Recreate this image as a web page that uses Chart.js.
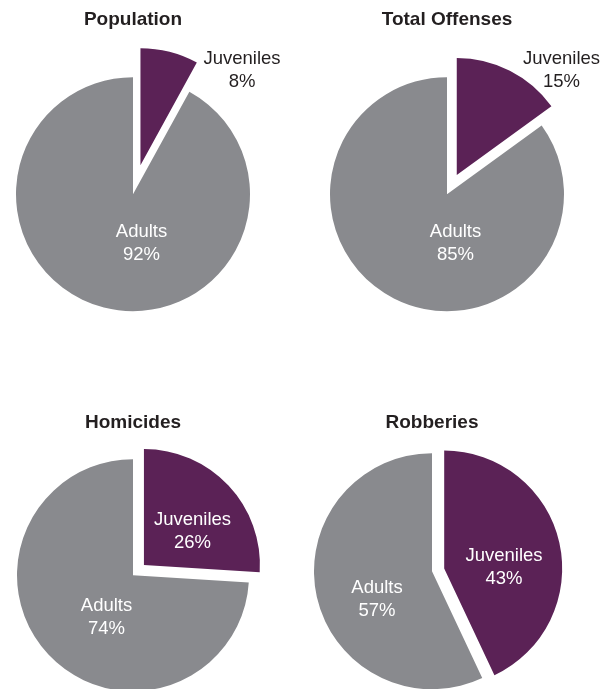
<!DOCTYPE html>
<html>
<head>
<meta charset="utf-8">
<script src="https://cdn.jsdelivr.net/npm/chart.js@4/dist/chart.umd.min.js"></script>
<style>
  html, body { margin: 0; padding: 0; background: #fff; }
  body { position: relative; width: 611px; height: 689px; overflow: hidden; }
  canvas { position: absolute; }
</style>
</head>
<body>
<canvas id="pie0"></canvas>
<canvas id="pie1"></canvas>
<canvas id="pie2"></canvas>
<canvas id="pie3"></canvas>
<script>
  const titles = ["Population", "Total Offenses", "Homicides", "Robberies"];
  const groups = ["Juveniles", "Adults"];
  const juvenilePct = [8, 15, 26, 43];
  const adultPct = [92, 85, 74, 57];

  const JUV_COLOR = "#5b2256";
  const ADULT_COLOR = "#898a8e";
  const TEXT_DARK = "#231f20";
  const FONT = "'Liberation Sans', Arial, sans-serif";

  // title block: top padding + one 19px line at 1.2 line height
  const TITLE_PAD = 8.6;
  const TITLE_BLOCK = TITLE_PAD + 19 * 1.2;
  const CANVAS_W = 310;

  // where each pie sits, how far the juvenile slice is pulled out,
  // and label anchors relative to the pie centre
  const panels = [
    { cx: 132.5, cy: 194, top: 0, r: 117, pull: 30,
      labelAt: [[109, -124], [8.5, 49]], labelColors: [TEXT_DARK, "#fff"] },
    { cx: 446.5, cy: 194, top: 0, r: 117, pull: 21.5,
      labelAt: [[114.5, -124], [8.5, 49]], labelColors: [TEXT_DARK, "#fff"] },
    { cx: 133, cy: 575, top: 403, r: 116, pull: 15,
      labelAt: [[59.5, -43.5], [-26.5, 42]], labelColors: ["#fff", "#fff"] },
    { cx: 432, cy: 571, top: 403, r: 118, pull: 12.5,
      labelAt: [[72, -3.6], [-55, 28.5]], labelColors: ["#fff", "#fff"] }
  ];

  // moves a slice straight out along its mid-angle without growing it
  const pullOut = {
    id: "pullOut",
    beforeDatasetDraw(chart, args, opts) {
      const ctx = chart.ctx;
      args.meta.data.forEach((arc, i) => {
        const d = opts.shift[i] || 0;
        const mid = (arc.startAngle + arc.endAngle) / 2;
        ctx.save();
        ctx.translate(Math.cos(mid) * d, Math.sin(mid) * d);
        arc.draw(ctx);
        ctx.restore();
      });
      return false;
    }
  };

  const sliceLabels = {
    id: "sliceLabels",
    afterDatasetsDraw(chart, args, opts) {
      const ctx = chart.ctx;
      const meta = chart.getDatasetMeta(0);
      const values = chart.data.datasets[0].data;
      ctx.save();
      ctx.font = "18.5px " + FONT;
      ctx.textAlign = "center";
      ctx.textBaseline = "middle";
      meta.data.forEach((arc, i) => {
        const x = arc.x + opts.at[i][0];
        const y = arc.y + opts.at[i][1];
        ctx.fillStyle = opts.colors[i];
        ctx.fillText(chart.data.labels[i], x, y - 11.5);
        ctx.fillText(values[i] + "%", x, y + 11.5);
      });
      ctx.restore();
    }
  };

  panels.forEach((p, i) => {
    const canvas = document.getElementById("pie" + i);
    const h = Math.round(2 * (p.cy - p.top) - TITLE_BLOCK);
    canvas.width = CANVAS_W;
    canvas.height = h;
    canvas.style.left = (p.cx - CANVAS_W / 2) + "px";
    canvas.style.top = p.top + "px";

    new Chart(canvas, {
      type: "pie",
      data: {
        labels: groups,
        datasets: [{
          data: [juvenilePct[i], adultPct[i]],
          backgroundColor: [JUV_COLOR, ADULT_COLOR],
          borderWidth: 0
        }]
      },
      options: {
        responsive: false,
        animation: false,
        radius: p.r,
        layout: { padding: 0 },
        plugins: {
          legend: { display: false },
          tooltip: { enabled: false },
          title: {
            display: true,
            text: titles[i],
            color: TEXT_DARK,
            font: { family: FONT, size: 19, weight: "bold", lineHeight: 1.2 },
            padding: { top: TITLE_PAD, bottom: 0 }
          },
          pullOut: { shift: [p.pull, 0] },
          sliceLabels: { at: p.labelAt, colors: p.labelColors }
        }
      },
      plugins: [pullOut, sliceLabels]
    });
  });
</script>
</body>
</html>
